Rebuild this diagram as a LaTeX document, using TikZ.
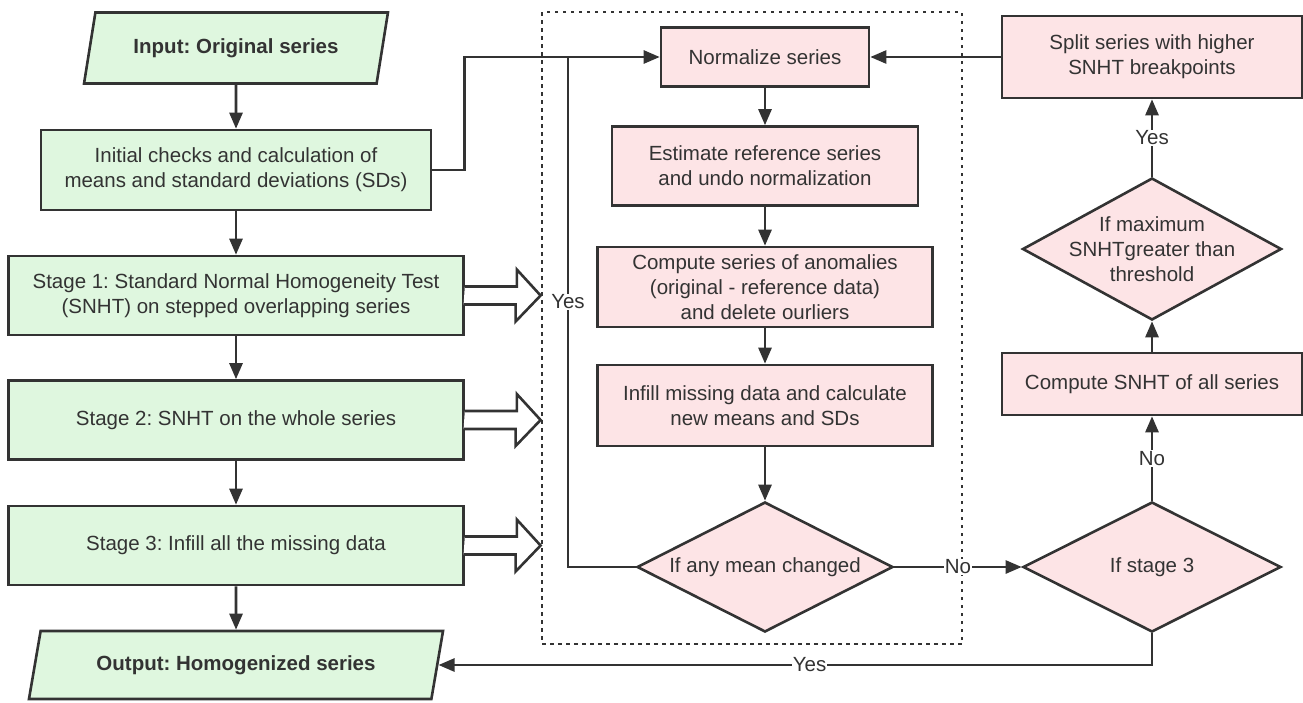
\documentclass[tikz,border=0pt]{standalone}
\usepackage{fontspec}
\setmainfont{Liberation Sans}
\usetikzlibrary{shapes.geometric,arrows.meta}
\definecolor{ink}{RGB}{51,51,51}
\definecolor{gfill}{RGB}{223,247,223}
\definecolor{pfill}{RGB}{253,228,230}
\frenchspacing
\begin{document}
\begin{tikzpicture}[x=1pt,y=-1pt,
		font=\fontsize{20.5}{25}\selectfont,text=ink,
		box/.style={draw=ink,line width=2.6pt,align=center,inner sep=2pt},
		gbox/.style={box,fill=gfill},
		pbox/.style={box,fill=pfill},
		io/.style={gbox,trapezium,trapezium left angle=70,trapezium right angle=110,trapezium stretches=true,font=\fontsize{20.5}{25}\selectfont\bfseries},
		decision/.style={pbox,diamond,aspect=1.8,inner sep=-12pt},
		conn/.style={draw=ink,line width=2.6pt},
		arr/.style={conn,-{Triangle[length=16pt,width=13pt]}},
		lab/.style={fill=white,inner sep=1pt},
		fat/.style={draw=ink,line width=2.6pt,fill=white,line join=miter}]
		\useasboundingbox (0,0) rectangle (1303,702);
		\def\xl{236}%Cột trái
		\def\xm{765}%Cột giữa
		\def\xr{1152}%Cột phải
		\node[draw=ink,line width=2.8pt,dash pattern=on 3.5pt off 4.5pt,minimum width=420pt,minimum height=632pt] (loop) at (752,328) {};
		% cột trái
		\node[io,minimum width=304pt,minimum height=71pt] (inp) at (\xl,48) {Input: Original series};
		\node[gbox,minimum width=390pt,minimum height=80pt] (init) at (\xl,170) {Initial checks and calculation of\\means and standard deviations (SDs)};
		\node[gbox,minimum width=455pt,minimum height=79pt] (st1) at (\xl,295.5) {Stage 1: Standard Normal Homogeneity Test\\(SNHT) on stepped overlapping series};
		\node[gbox,minimum width=455pt,minimum height=79pt] (st2) at (\xl,420) {Stage 2: SNHT on the whole series};
		\node[gbox,minimum width=455pt,minimum height=79pt] (st3) at (\xl,545.5) {Stage 3: Infill all the missing data};
		\node[io,minimum width=415pt,minimum height=68pt] (out) at (\xl,665) {Output: Homogenized series};
		% cột giữa
		\node[pbox,minimum width=208pt,minimum height=59pt] (norm) at (\xm,57) {Normalize series};
		\node[pbox,minimum width=306pt,minimum height=79pt] (est) at (\xm,166) {Estimate reference series\\and undo normalization};
		\node[pbox,minimum width=335pt,minimum height=80pt] (anom) at (\xm,287) {Compute series of anomalies\\(original - reference data)\\and delete ourliers};
		\node[pbox,minimum width=335pt,minimum height=81pt] (infill) at (\xm,405.5) {Infill missing data and calculate\\new means and SDs};
		\node[decision,minimum width=256pt,minimum height=130pt] (chg) at (\xm,567) {If any mean changed};
		% cột phải
		\node[pbox,minimum width=300pt,minimum height=82pt] (split) at (\xr,57) {Split series with higher\\SNHT breakpoints};
		\node[decision,minimum width=259pt,minimum height=142pt] (dmax) at (\xr,249) {If maximum\\SNHTgreater than\\threshold};
		\node[pbox,minimum width=300pt,minimum height=62pt] (snht) at (\xr,384) {Compute SNHT of all series};
		\node[decision,minimum width=258pt,minimum height=130pt] (stg3) at (\xr,567) {If stage 3};
		\coordinate (yj) at (568,0 |- norm.west);
		% mũi tên
		\draw[arr] (inp) -- (init);
		\draw[arr] (init) -- (st1);
		\draw[arr] (st1) -- (st2);
		\draw[arr] (st2) -- (st3);
		\draw[arr] (st3) -- (out);
		\draw[arr] (init.east) -- ++(32,0) |- (norm.west);
		\draw[arr] (norm) -- (est);
		\draw[arr] (est) -- (anom);
		\draw[arr] (anom) -- (infill);
		\draw[arr] (infill) -- (chg);
		\draw[conn] (chg.west) -| (yj) node[lab,pos=0.76] {Yes};
		\draw[arr] (chg.east) -- (stg3.west) node[lab,midway] {No};
		\draw[arr] (stg3.north) -- (snht.south) node[lab,midway] {No};
		\draw[arr] (snht.north) -- (dmax.south);
		\draw[arr] (dmax.north) -- (split.south) node[lab,midway] {Yes};
		\draw[arr] (split.west) -- (norm.east);
		\draw[arr] (stg3.south) |- (out.east) node[lab,pos=0.74] {Yes};
		\foreach \s in {st1,st2,st3}
			\draw[fat] (\s.east) ++(0,-9) -- ++(52,0) -- ++(0,-17) -- (loop.west |- \s.east) -- ++(-25,26) -- ++(0,-17) -- ++(-52,0);
\end{tikzpicture}
\end{document}
